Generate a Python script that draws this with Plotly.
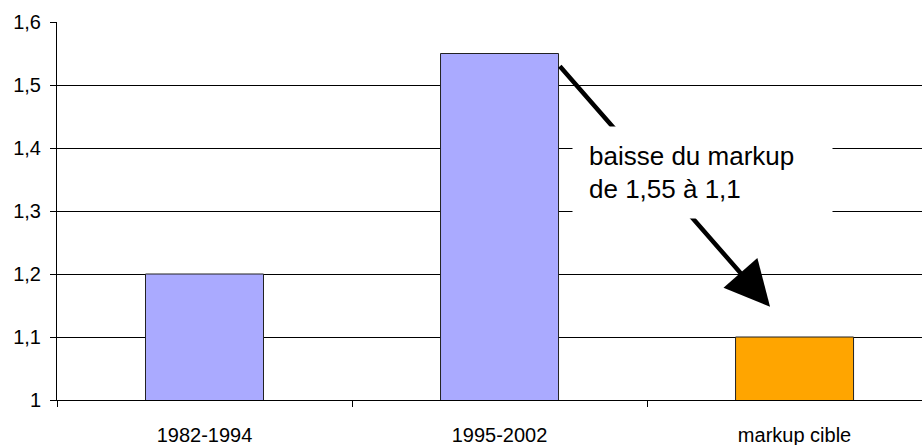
import plotly.graph_objects as go

categories = ["1982-1994", "1995-2002", "markup cible"]
values = [1.2, 1.55, 1.1]
bar_colors = ["#AAAAFF", "#AAAAFF", "#FFA500"]
y_tickvals = [1.0, 1.1, 1.2, 1.3, 1.4, 1.5, 1.6]
y_ticktext = ["1", "1,1", "1,2", "1,3", "1,4", "1,5", "1,6"]
note_text = "baisse du markup<br>de 1,55 à 1,1"

FONT = "Liberation Sans, Arial, sans-serif"

fig = go.Figure()
fig.add_trace(go.Bar(
    x=[0, 1, 2],
    y=values,
    base=0,
    width=0.4,
    marker=dict(color=bar_colors, line=dict(color="#222222", width=1)),
    hoverinfo="skip",
))

fig.update_layout(
    width=922, height=445, autosize=False,
    margin=dict(l=57, r=0, t=22, b=45, autoexpand=False),
    paper_bgcolor="white", plot_bgcolor="white",
    showlegend=False,
    font=dict(family=FONT, size=20, color="black"),
    bargap=0.6,
)

fig.update_xaxes(
    range=[-0.5, 2.432],
    tickvals=[0, 1, 2], ticktext=categories,
    showgrid=False, zeroline=False, automargin=False,
    showline=True, linecolor="black", linewidth=1,
    ticks="", ticklabelstandoff=17,
    tickfont=dict(family=FONT, size=20, color="black"),
)
# boundary tick marks between categories
fig.update_xaxes(minor=dict(tickvals=[-0.5, 0.5, 1.5], ticks="outside", ticklen=6,
                            tickcolor="black", tickwidth=1, showgrid=False))

fig.update_yaxes(
    range=[1.0, 1.6],
    tickvals=y_tickvals, ticktext=y_ticktext,
    showgrid=True, gridcolor="black", gridwidth=1,
    zeroline=False, automargin=False,
    showline=True, linecolor="black", linewidth=1,
    ticks="outside", ticklen=6, tickcolor="black",
    ticklabelstandoff=5,
    tickfont=dict(family=FONT, size=20, color="black"),
)

# arrow from top of the 1995-2002 bar down to the target bar
fig.add_annotation(
    x=1.917, y=1.148, xref="x", yref="y",
    ax=1.2, ay=1.532, axref="x", ayref="y",
    text="", showarrow=True,
    arrowhead=2, arrowwidth=4.5, arrowsize=2.0, arrowcolor="black",
    standoff=0, startstandoff=0,
)

# white text box covering part of the arrow
fig.add_annotation(
    x=1.688, y=1.361, xref="x", yref="y",
    text=note_text, showarrow=False,
    align="left", xanchor="center", yanchor="middle",
    width=227, height=59, borderpad=16,
    bgcolor="white",
    font=dict(family=FONT, size=26, color="black"),
)

fig.write_html("out.html", config={"displayModeBar": False},
               post_script="document.body.style.margin='0px';")
